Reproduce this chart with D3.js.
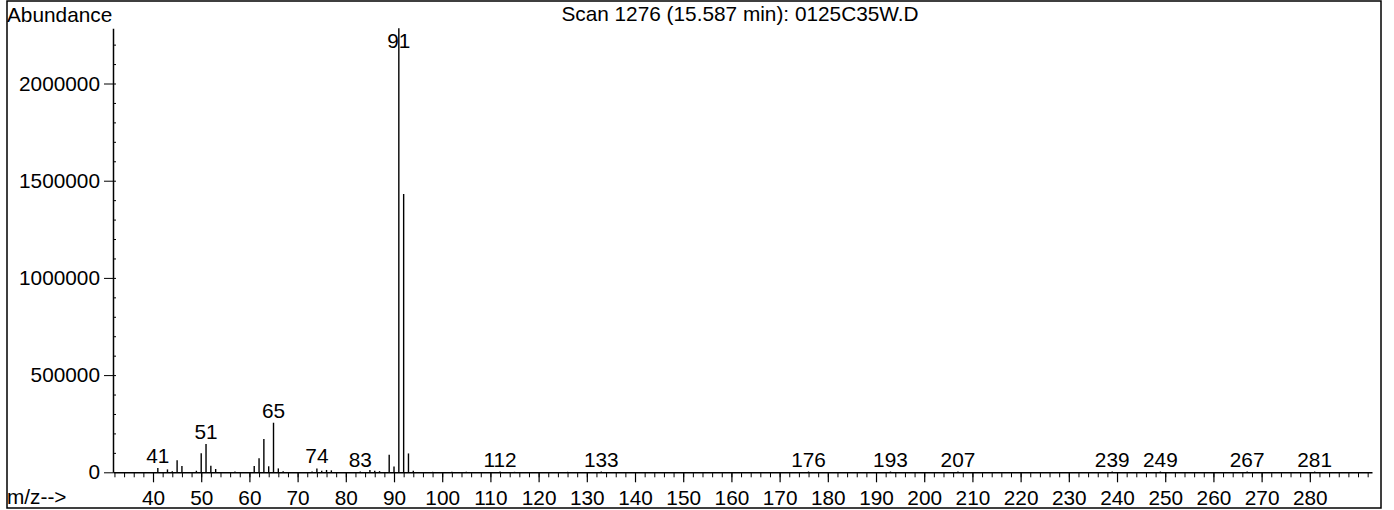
<!DOCTYPE html>
<html>
<head>
<meta charset="utf-8">
<script src="https://cdn.jsdelivr.net/npm/d3@7"></script>
<style>
  body { margin: 0; background: #fff; }
  svg { display: block; font-family: "Liberation Sans", Arial, sans-serif; }
</style>
</head>
<body>
<svg id="chart"></svg>
<script>
// Mass spectrum, scan 1276
const mz = [41, 43, 44, 45, 46, 49, 50, 51, 52, 53, 57, 61, 62, 63, 64, 65, 66, 67,
  73, 74, 75, 76, 77, 83, 85, 86, 87, 89, 90, 91, 92, 93, 94,
  98, 102, 105, 112, 115, 126, 133, 176, 193, 207, 239, 249, 267, 281];
const abundance = [22000, 15000, 5000, 62000, 32000, 8000, 98000, 146000, 34000, 17000, 4000,
  32000, 72000, 171000, 31000, 255000, 20000, 5000,
  4000, 20000, 8000, 12000, 10000, 4000, 12000, 8000, 6000, 90000, 30000, 2284000, 1432000, 97000, 8000,
  2500, 2500, 3000, 4000, 2500, 2500, 4000, 4000, 4000, 4000, 4000, 4000, 4000, 4000];
const labelled = [41, 51, 65, 74, 83, 91, 112, 133, 176, 193, 207, 239, 249, 267, 281];
const yTicks = [0, 500000, 1000000, 1500000, 2000000];
const xTicks = d3.range(40, 290, 10);
const title = 'Scan 1276 (15.587 min): 0125C35W.D';

const width = 1394, height = 510;
const fontSize = 20.8;

const svg = d3.select('#chart')
  .attr('width', width)
  .attr('height', height)
  .attr('viewBox', [0, 0, width, height]);

const x = d3.scaleLinear().domain([31.7, 292.9]).range([113, 1372]);
const y = d3.scaleLinear().domain([0, 2284000]).range([472.3, 28.3]);

// Frame
svg.append('rect')
  .attr('x', 7).attr('y', 1)
  .attr('width', 1381 - 7).attr('height', 508 - 1)
  .attr('fill', 'none')
  .attr('stroke', '#000')
  .attr('stroke-width', 1.5);

// Header texts
svg.append('text')
  .attr('x', 7).attr('y', 22)
  .attr('font-size', fontSize)
  .text('Abundance');

svg.append('text')
  .attr('x', 740).attr('y', 21)
  .attr('text-anchor', 'middle')
  .attr('font-size', fontSize)
  .text(title);

svg.append('text')
  .attr('x', 7).attr('y', 504)
  .attr('font-size', fontSize)
  .text('m/z-->');

// X axis: minor ticks every 2, major every 10
svg.append('g')
  .attr('transform', `translate(0,${y(0)})`)
  .call(d3.axisBottom(x).tickValues(d3.range(32, 293, 2)).tickSize(5).tickSizeOuter(0).tickFormat(''))
  .call(g => g.select('.domain').attr('stroke-width', 1.5));

svg.append('g')
  .attr('transform', `translate(0,${y(0)})`)
  .call(d3.axisBottom(x).tickValues(xTicks).tickSize(10).tickPadding(8))
  .call(g => g.select('.domain').remove())
  .call(g => g.selectAll('.tick line').attr('stroke-width', 1.2))
  .call(g => g.selectAll('.tick text')
    .attr('font-size', fontSize)
    .attr('font-family', '"Liberation Sans", Arial, sans-serif'));

// Y axis
svg.append('g')
  .attr('transform', `translate(${x.range()[0]},0)`)
  .call(d3.axisRight(y).tickValues(d3.range(100000, 2284000, 100000)).tickSize(3).tickSizeOuter(0).tickFormat(''))
  .call(g => g.select('.domain').remove());

svg.append('g')
  .attr('transform', `translate(${x.range()[0]},0)`)
  .call(d3.axisLeft(y).tickValues(yTicks).tickSize(9).tickPadding(4).tickSizeOuter(0).tickFormat(d3.format('d')))
  .call(g => g.select('.domain').attr('stroke-width', 1.5))
  .call(g => g.selectAll('.tick text')
    .attr('font-size', fontSize)
    .attr('font-family', '"Liberation Sans", Arial, sans-serif'));

// Peak labels
const peaks = mz.map((m, i) => ({ m, a: abundance[i] }));
svg.append('g')
  .selectAll('text')
  .data(peaks.filter(d => labelled.includes(d.m)))
  .join('text')
  .attr('x', d => x(d.m))
  .attr('y', d => Math.max(y(d.a) - 5, 48))
  .attr('text-anchor', 'middle')
  .attr('font-size', fontSize)
  .text(d => d.m);

// Peaks
svg.append('g')
  .selectAll('line')
  .data(peaks)
  .join('line')
  .attr('x1', d => x(d.m))
  .attr('x2', d => x(d.m))
  .attr('y1', y(0))
  .attr('y2', d => y(d.a))
  .attr('stroke', '#000')
  .attr('stroke-width', 1.4);
</script>
</body>
</html>
